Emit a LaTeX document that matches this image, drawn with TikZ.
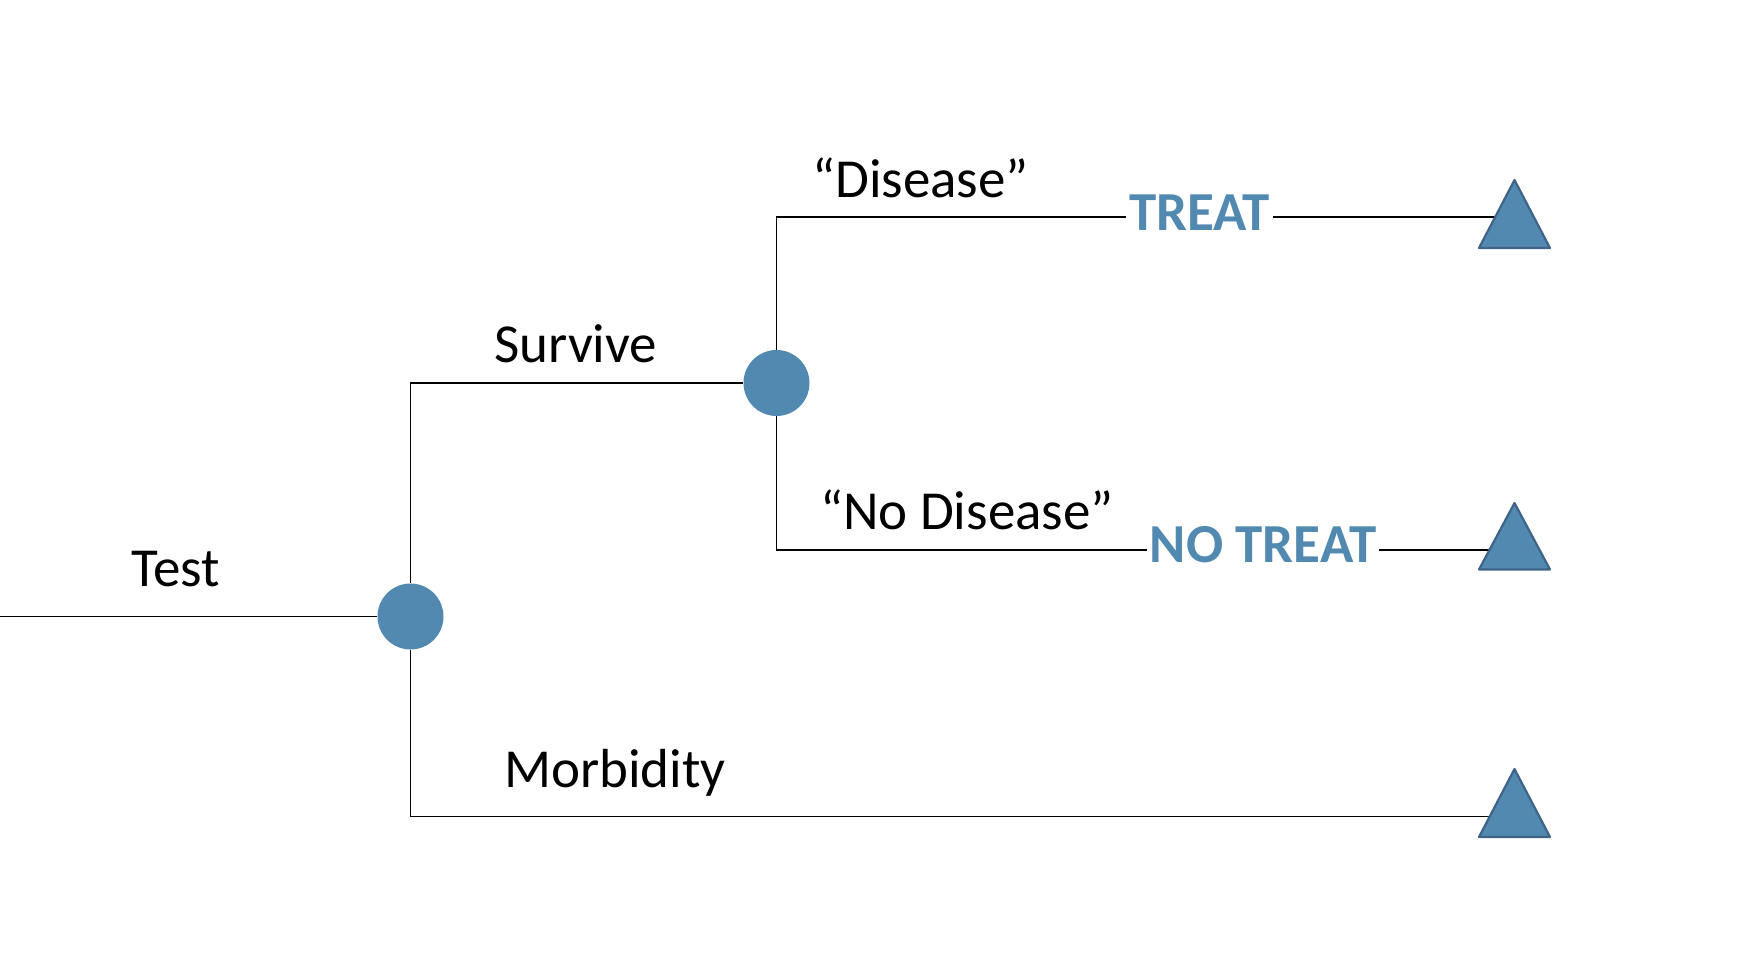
\documentclass[tikz,border=0pt]{standalone}
\usepackage{fontspec}
\setmainfont{Carlito}
\definecolor{nodeblue}{HTML}{5289B0}
\definecolor{triedge}{HTML}{3F6488}
\begin{document}
\begin{tikzpicture}[x=1pt,y=-1pt,
  branch/.style={draw=black,line width=1.3pt},
  chance/.style={circle,fill=nodeblue,minimum size=66pt,inner sep=0pt},
  term/.style={fill=nodeblue,draw=triedge,line width=2.2pt,line join=round},
  lbl/.style={anchor=base west,font=\fontsize{55}{60}\selectfont,text=black,inner sep=0pt},
  act/.style={anchor=base,font=\fontsize{55}{60}\selectfont\bfseries,text=nodeblue,fill=white,inner xsep=3pt,inner ysep=2pt}]
\useasboundingbox (0,0) rectangle (1754,974);
% chance nodes
\node[chance] (c1) at (410.5,616.5) {};
\node[chance] (c2) at (776.5,383) {};
% terminal attach points
\coordinate (start) at (0,616.5);
\coordinate (t1) at (1495,217);
\coordinate (t2) at (1489.5,550);
\coordinate (t3) at (1490,816.5);
% branches
\draw[branch] (start) -- (c1);
\draw[branch] (c1) |- (c2);
\draw[branch] (c1) |- (t3);
\draw[branch] (c2) |- (t1);
\draw[branch] (c2) |- (t2);
% terminal triangles
\draw[term] (1514.5,180) -- (1550,248) -- (1479,248) -- cycle;
\draw[term] (1514.5,503) -- (1550,569.5) -- (1479,569.5) -- cycle;
\draw[term] (1514.5,769) -- (1550,837) -- (1479,837) -- cycle;
% action labels (interrupting the lines)
\node[act] (treat) at (1199.5,230.7) {TREAT};
\node[act] (notreat) at (1263,562.3) {NO TREAT};
% branch labels
\node[lbl] (ltest) at (131,586) {Test};
\node[lbl] (lsurv) at (494,362) {Survive};
\node[lbl] (ldis) at (812,197) {“Disease”};
\node[lbl] (lnodis) at (820,529) {“No Disease”};
\node[lbl] (lmorb) at (504,787) {Morbidity};
\end{tikzpicture}
\end{document}
